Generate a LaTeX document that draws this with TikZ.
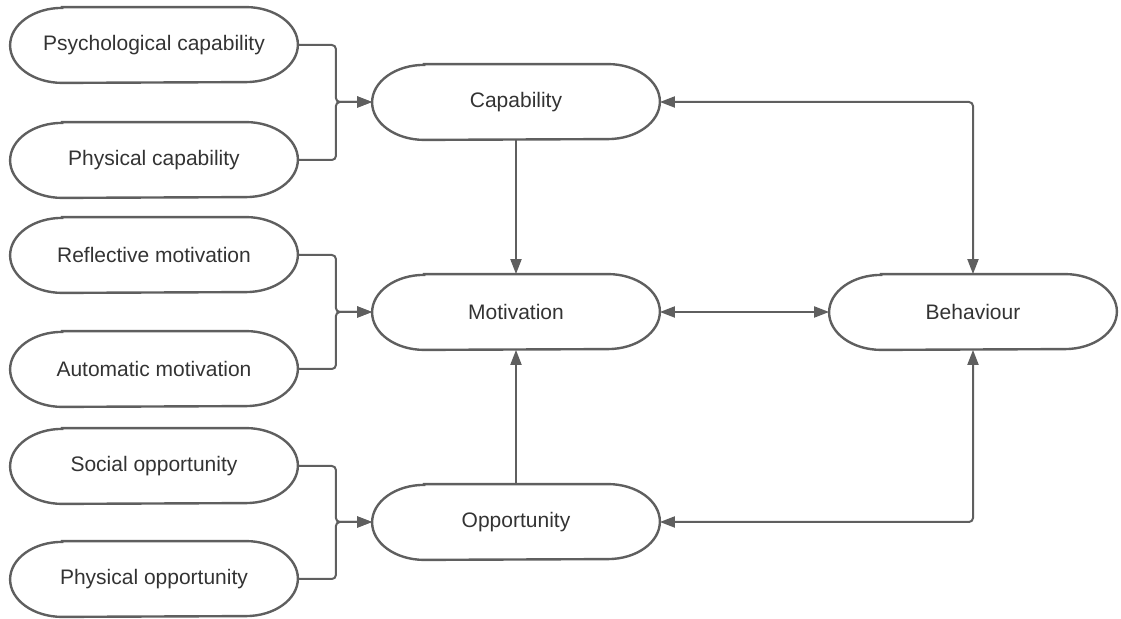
\documentclass[tikz,border=0pt]{standalone}
\usepackage{fontspec}
\setmainfont{Liberation Sans}
\usepackage{xcolor}
\usepackage{tikz}
\usetikzlibrary{arrows.meta}

\definecolor{linegray}{HTML}{5F5F5F}
\definecolor{textgray}{HTML}{333333}

\tikzset{
  pill/.style={shape=rectangle, minimum width=143.5pt, minimum height=37.5pt, inner sep=0pt,
    text=textgray, font=\fontsize{10.5}{12}\selectfont,
    append after command={\pgfextra{\draw[draw=linegray, line width=1.2pt]
      ([xshift=26pt]\tikzlastnode.north west) -- ([xshift=-26pt]\tikzlastnode.north east)
      arc[start angle=90, end angle=-90, x radius=26pt, y radius=18.75pt]
      -- ([xshift=26pt]\tikzlastnode.south west)
      arc[start angle=270, end angle=90, x radius=26pt, y radius=18.75pt] -- cycle;}}},
  tip/.tip={Triangle[length=7.5pt, width=5.5pt]},
  link/.style={draw=linegray, line width=1pt, rounded corners=2pt, -tip},
  twoway/.style={link, tip-tip}
}

\begin{document}
\begin{tikzpicture}[x=0.5pt, y=-0.5pt]
            \useasboundingbox (0,0) rectangle (1121,619);

            \node[pill] (psy) at (154, 45) {Psychological capability};
            \node[pill] (phc) at (154, 160) {Physical capability};
            \node[pill] (ref) at (154, 255) {Reflective motivation};
            \node[pill] (aut) at (154, 369) {Automatic motivation};
            \node[pill] (soc) at (154, 466) {Social opportunity};
            \node[pill] (pho) at (154, 579) {Physical opportunity};

            \node[pill] (cap) at (516, 102) {Capability};
            \node[pill] (mot) at (516, 312) {Motivation};
            \node[pill] (opp) at (516, 522) {Opportunity};
            \node[pill] (beh) at (973, 312) {Behaviour};

            \draw [link] (psy.east) -- ++(38,0) |- (cap.west);
            \draw [link] (phc.east) -- ++(38,0) |- (cap.west);

            \draw [link] (ref.east) -- ++(38,0) |- (mot.west);
            \draw [link] (aut.east) -- ++(38,0) |- (mot.west);

            \draw [link] (soc.east) -- ++(38,0) |- (opp.west);
            \draw [link] (pho.east) -- ++(38,0) |- (opp.west);

            \draw [link] (cap.south) -- (mot.north);
            \draw [link] (opp.north) -- (mot.south);

            \draw [twoway] (mot.east) -- (beh.west);
            \draw [twoway] (cap.east) -| (beh.north);
            \draw [twoway] (opp.east) -| (beh.south);
        \end{tikzpicture}
\end{document}
